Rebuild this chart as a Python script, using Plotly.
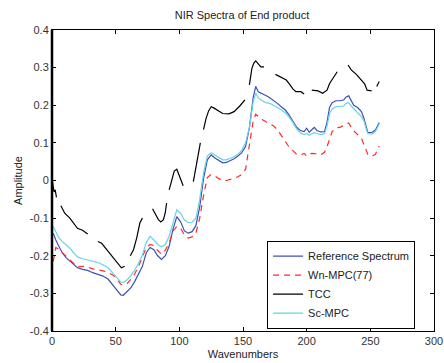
import plotly.graph_objects as go

# Shared wavenumber positions for the three continuous spectra
wavenumbers = [1,2,3,5,8,11,14,17,20,24,28,32,36,40,44,48,51,54,56,59,62,65,68,71,74,77,80,83,86,89,
               92,95,98,101,104,107,110,113,116,119,122,125,128,131,134,137,140,143,146,149,152,155,158,160,
               162,165,168,171,174,177,180,183,186,189,192,195,198,200,202,204,206,208,211,214,216,218,220,
               223,226,229,231,233,235,237,240,243,245,247,248,251,254,257]

reference_spectrum = [-0.14,-0.15,-0.158,-0.172,-0.192,-0.205,-0.214,-0.225,-0.232,-0.236,-0.239,-0.245,-0.25,-0.254,
                      -0.262,-0.278,-0.292,-0.304,-0.305,-0.296,-0.285,-0.268,-0.25,-0.228,-0.192,-0.178,-0.184,-0.2,
                      -0.21,-0.2,-0.175,-0.13,-0.096,-0.11,-0.134,-0.14,-0.136,-0.12,-0.07,0.005,0.055,0.068,0.06,
                      0.053,0.047,0.048,0.052,0.058,0.065,0.074,0.09,0.14,0.22,0.25,0.236,0.232,0.226,0.22,0.213,
                      0.205,0.196,0.188,0.175,0.158,0.142,0.133,0.13,0.139,0.128,0.135,0.141,0.133,0.129,0.13,0.155,
                      0.195,0.207,0.212,0.212,0.214,0.222,0.225,0.212,0.2,0.194,0.183,0.165,0.14,0.128,0.127,0.134,0.154]

wn_mpc = [-0.215,-0.19,-0.178,-0.182,-0.192,-0.2,-0.21,-0.222,-0.23,-0.228,-0.23,-0.235,-0.237,-0.24,-0.244,-0.252,
          -0.262,-0.276,-0.278,-0.274,-0.262,-0.248,-0.228,-0.205,-0.178,-0.17,-0.173,-0.186,-0.196,-0.185,-0.165,
          -0.135,-0.122,-0.127,-0.145,-0.153,-0.15,-0.14,-0.1,-0.04,0.008,0.016,0.012,0.005,0.0,0.0,0.002,0.006,
          0.01,0.016,0.03,0.1,0.158,0.176,0.17,0.162,0.156,0.15,0.145,0.135,0.12,0.105,0.09,0.08,0.07,0.068,
          0.072,0.065,0.07,0.072,0.072,0.071,0.068,0.075,0.09,0.112,0.13,0.14,0.141,0.146,0.15,0.153,0.142,
          0.132,0.122,0.112,0.095,0.078,0.07,0.064,0.07,0.092]

sc_mpc = [-0.122,-0.13,-0.138,-0.15,-0.162,-0.17,-0.18,-0.192,-0.203,-0.208,-0.211,-0.214,-0.218,-0.224,-0.232,
          -0.247,-0.26,-0.27,-0.271,-0.264,-0.252,-0.238,-0.22,-0.198,-0.165,-0.148,-0.158,-0.17,-0.176,-0.17,
          -0.148,-0.11,-0.078,-0.087,-0.105,-0.112,-0.111,-0.1,-0.05,0.02,0.065,0.074,0.067,0.06,0.055,0.055,
          0.058,0.063,0.07,0.08,0.1,0.14,0.21,0.232,0.22,0.212,0.207,0.205,0.2,0.195,0.188,0.18,0.17,0.155,
          0.138,0.127,0.122,0.125,0.12,0.124,0.127,0.125,0.122,0.124,0.145,0.178,0.19,0.196,0.197,0.198,0.205,
          0.207,0.198,0.19,0.18,0.17,0.158,0.135,0.125,0.123,0.13,0.15]

# TCC spectrum is broken into segments (None marks the gaps)
tcc_x = [0.5,1.5,2.5,3.5,None,
         7,10,14,17,20,24,28,None,
         36,39,43,47,51,54.5,57,None,
         61.5,64,66.5,69,71,None,
         79,81,83.5,85.5,87.5,89,90,None,
         92,94,96,98,100,102,103,None,
         111,113,115,116.5,None,
         119,121,123,125,127,130,134,139,143,148,151.5,None,
         155,157,158.5,160,162.5,164,166.5,None,
         175.5,180,184,186.5,189,191.5,195.5,198,None,
         204,209,212.5,216,218,220.5,224,None,
         232.5,235,239,243,245.5,247.5,251,None,
         255,257]
tcc_y = [-0.005,-0.03,-0.025,-0.045,None,
         -0.067,-0.087,-0.1,-0.115,-0.127,-0.132,-0.142,None,
         -0.162,-0.167,-0.184,-0.2,-0.215,-0.232,-0.228,None,
         -0.2,-0.184,-0.153,-0.113,-0.1,None,
         -0.075,-0.09,-0.104,-0.11,-0.104,-0.085,-0.06,None,
         -0.025,0.0,0.025,0.03,0.01,-0.008,-0.014,None,
         -0.003,0.035,0.07,0.1,None,
         0.135,0.165,0.185,0.196,0.193,0.186,0.178,0.177,0.183,0.2,0.214,None,
         0.254,0.298,0.312,0.318,0.308,0.302,0.302,None,
         0.282,0.273,0.267,0.256,0.244,0.236,0.236,0.23,None,
         0.24,0.238,0.232,0.24,0.258,0.271,0.289,None,
         0.307,0.294,0.282,0.268,0.257,0.24,0.238,None,
         0.25,0.263]

x_ticks = [0, 50, 100, 150, 200, 250, 300]
y_ticks = [-0.4, -0.3, -0.2, -0.1, 0, 0.1, 0.2, 0.3, 0.4]
y_tick_labels = ["-0.4", "-0.3", "-0.2", "-0.1", "0", "0.1", "0.2", "0.3", "0.4"]

fig = go.Figure()
fig.add_trace(go.Scatter(x=wavenumbers, y=reference_spectrum, mode="lines", name="Reference Spectrum",
                         line=dict(color="#3f50b5", width=1.2)))
fig.add_trace(go.Scatter(x=wavenumbers, y=wn_mpc, mode="lines", name="Wn-MPC(77)",
                         line=dict(color="#ff2a2a", width=1.2, dash="6px,5px")))
fig.add_trace(go.Scatter(x=tcc_x, y=tcc_y, mode="lines", name="TCC", connectgaps=False,
                         line=dict(color="black", width=1.2)))
fig.add_trace(go.Scatter(x=wavenumbers, y=sc_mpc, mode="lines", name="Sc-MPC",
                         line=dict(color="#66d3e8", width=1.2)))

font = "Liberation Sans, Arial, sans-serif"
fig.update_layout(
    width=444, height=363,
    margin=dict(l=52, r=10, t=30, b=32, autoexpand=False),
    paper_bgcolor="white", plot_bgcolor="white",
    font=dict(family=font, size=11, color="#333333"),
    title=dict(text="NIR Spectra of End product", x=0.545, xanchor="center", y=0.958, yanchor="middle",
               font=dict(family=font, size=11, color="#222222"), automargin=False),
    showlegend=True,
    legend=dict(x=0.563, y=0.3, xanchor="left", yanchor="top", bgcolor="white",
                bordercolor="black", borderwidth=1, font=dict(family=font, size=11, color="#222222"),
                tracegroupgap=0, itemwidth=30),
)
fig.update_xaxes(range=[0, 300], tickvals=x_ticks, ticks="inside", ticklen=4, tickcolor="black",
                 showline=True, linecolor="black", linewidth=1, mirror="ticks", showgrid=False, zeroline=False,
                 automargin=False,
                 title=dict(text="Wavenumbers", standoff=4, font=dict(size=11, color="#222222")))
fig.update_yaxes(range=[-0.4, 0.4], tickvals=y_ticks, ticktext=y_tick_labels, ticks="inside", ticklen=4,
                 tickcolor="black", showline=True, linecolor="black", linewidth=1, mirror="ticks",
                 showgrid=False, zeroline=False, automargin=False,
                 title=dict(text="Amplitude", standoff=4, font=dict(size=11, color="#222222")))
# thicker left frame edge as in the reference
fig.add_shape(type="line", xref="paper", yref="paper", x0=0, x1=0, y0=0, y1=1,
              line=dict(color="black", width=2.5))
fig.write_html("out.html", config={"displayModeBar": False},
               post_script="document.body.style.margin='0';document.body.style.overflow='hidden';")
